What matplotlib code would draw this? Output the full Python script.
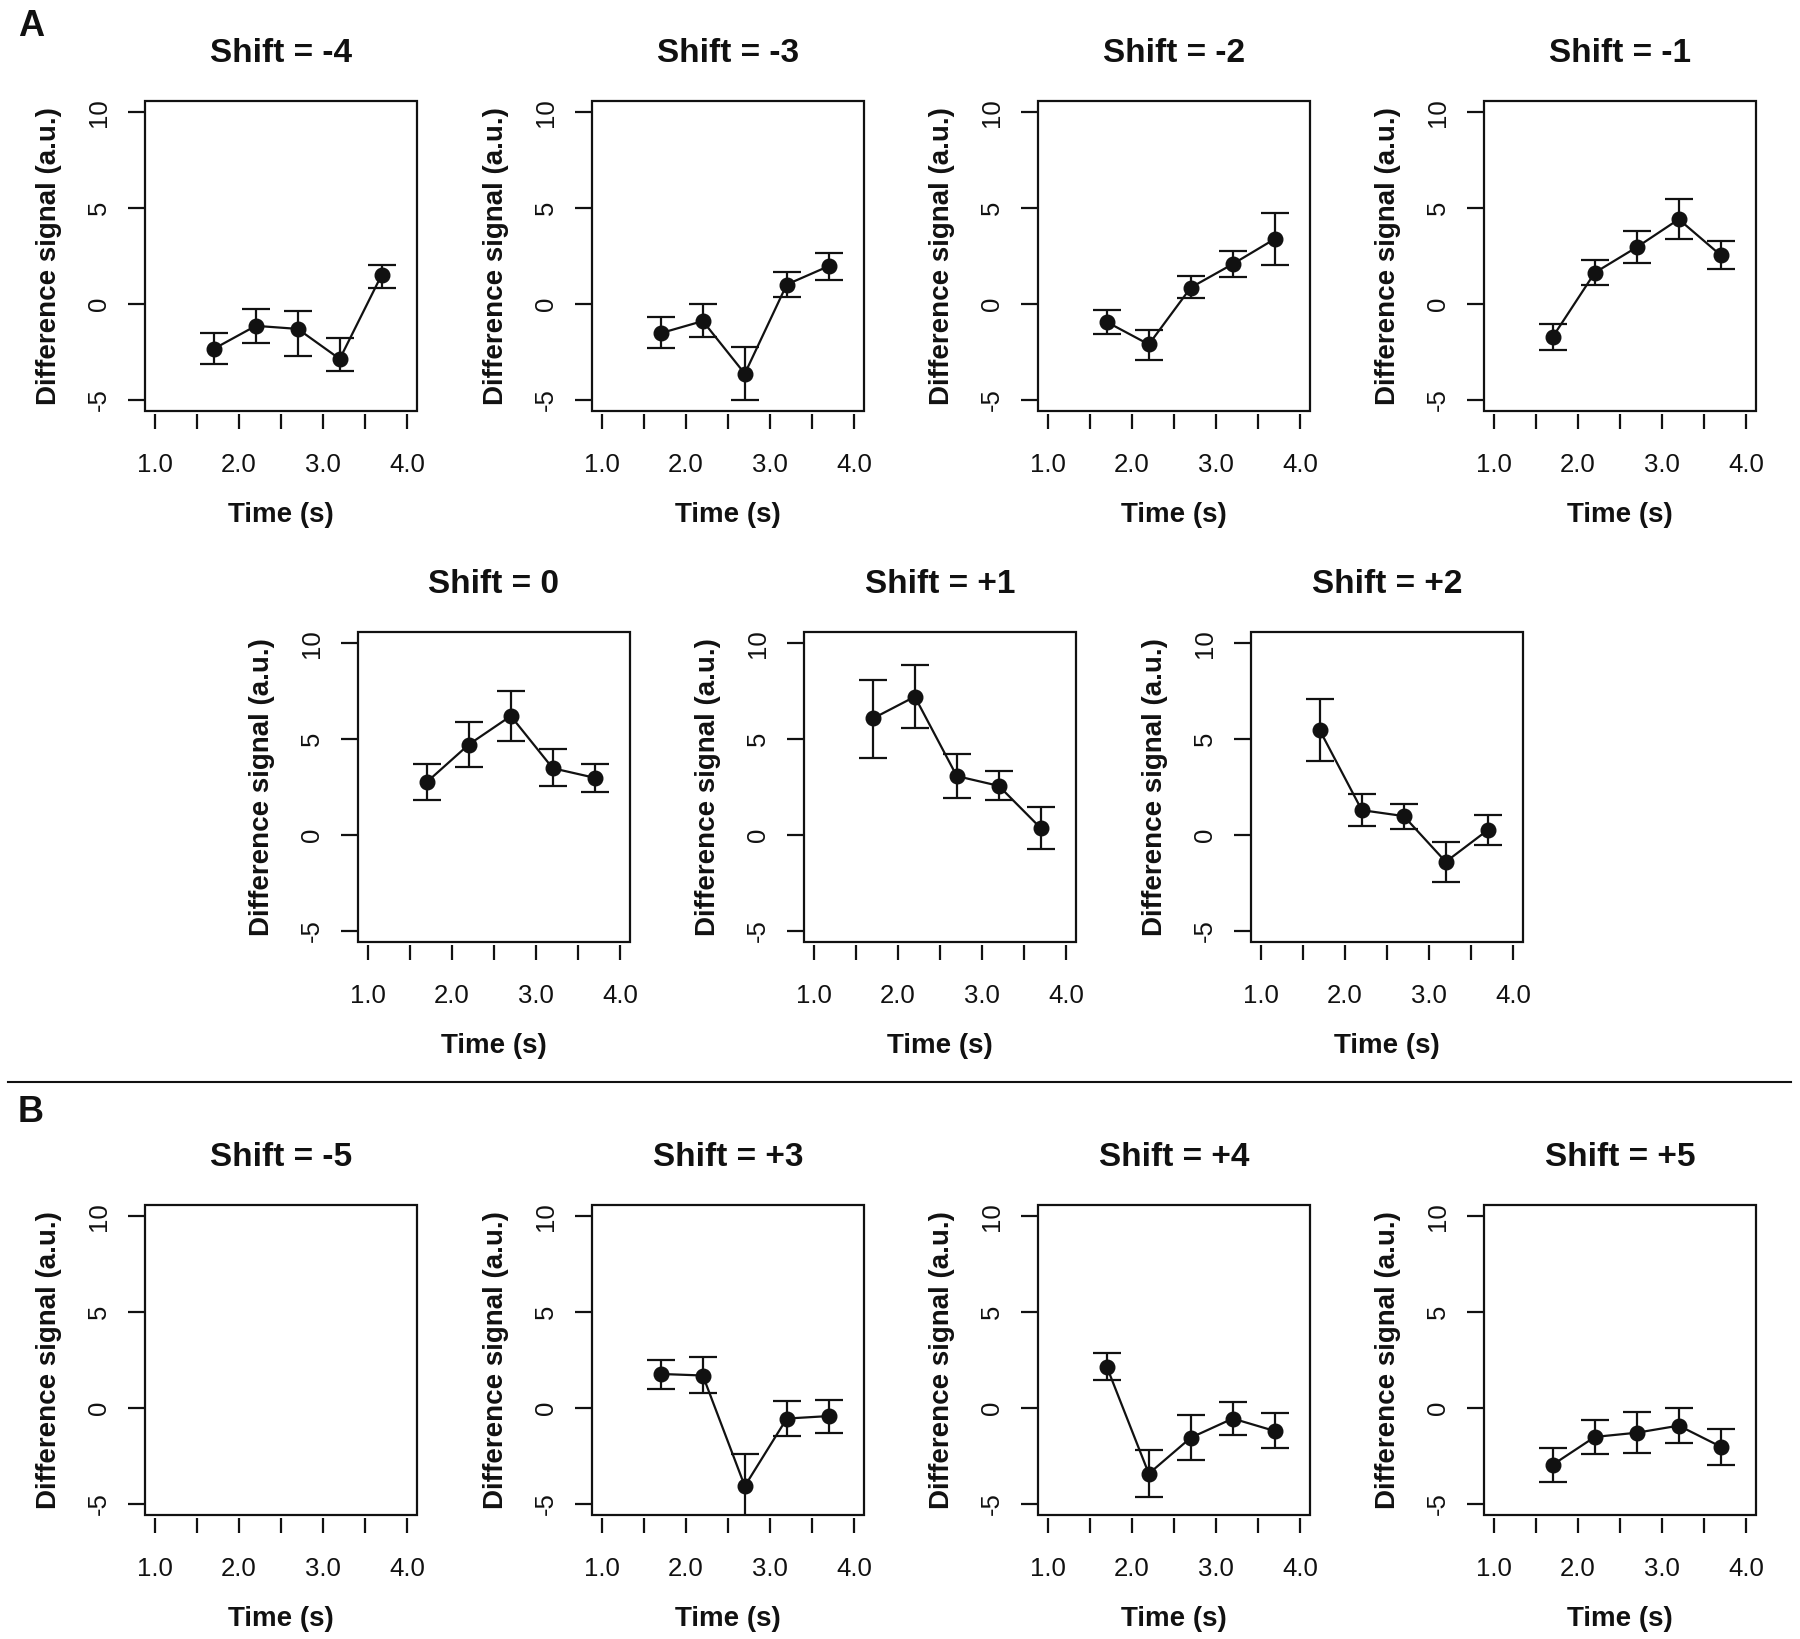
import matplotlib
matplotlib.use("Agg")
import matplotlib.pyplot as plt
from matplotlib.patches import Rectangle
from matplotlib.lines import Line2D

plt.rcParams['font.family'] = ['Liberation Sans', 'DejaVu Sans']

# time points (s)
time_s = [1.7, 2.2, 2.7, 3.2, 3.7]

# mean difference signal and error bar ends, one set per shift
sig_m4 = [-2.35, -1.15, -1.31, -2.88, 1.52]
lo_m4 = [-3.15, -2.03, -2.70, -3.51, 0.82]
hi_m4 = [-1.53, -0.28, -0.35, -1.81, 2.04]

sig_m3 = [-1.53, -0.90, -3.65, 1.01, 1.97]
lo_m3 = [-2.30, -1.72, -5.00, 0.38, 1.25]
hi_m3 = [-0.70, -0.03, -2.26, 1.66, 2.67]

sig_m2 = [-0.95, -2.12, 0.85, 2.08, 3.39]
lo_m2 = [-1.56, -2.93, 0.28, 1.39, 2.04]
hi_m2 = [-0.34, -1.35, 1.43, 2.78, 4.76]

sig_m1 = [-1.72, 1.63, 2.96, 4.42, 2.54]
lo_m1 = [-2.43, 1.00, 2.11, 3.39, 1.82]
hi_m1 = [-1.04, 2.29, 3.79, 5.46, 3.26]

sig_0 = [2.76, 4.72, 6.21, 3.48, 2.98]
lo_0 = [1.84, 3.53, 4.88, 2.53, 2.26]
hi_0 = [3.69, 5.90, 7.54, 4.47, 3.69]

sig_p1 = [6.08, 7.22, 3.07, 2.56, 0.35]
lo_p1 = [4.04, 5.56, 1.92, 1.83, -0.76]
hi_p1 = [8.11, 8.89, 4.25, 3.35, 1.47]

sig_p2 = [5.46, 1.29, 0.98, -1.41, 0.25]
lo_p2 = [3.84, 0.44, 0.32, -2.47, -0.53]
hi_p2 = [7.11, 2.13, 1.63, -0.36, 1.02]

# shift -5 has no data
sig_m5 = []
lo_m5 = []
hi_m5 = []

sig_p3 = [1.77, 1.69, -4.09, -0.56, -0.43]
lo_p3 = [0.97, 0.76, -5.80, -1.47, -1.30]
hi_p3 = [2.49, 2.66, -2.40, 0.35, 0.41]

sig_p4 = [2.14, -3.44, -1.56, -0.56, -1.21]
lo_p4 = [1.43, -4.65, -2.73, -1.43, -2.12]
hi_p4 = [2.84, -2.21, -0.35, 0.30, -0.28]

sig_p5 = [-2.97, -1.52, -1.30, -0.93, -2.03]
lo_p5 = [-3.85, -2.40, -2.36, -1.86, -2.97]
hi_p5 = [-2.08, -0.65, -0.24, 0.00, -1.10]

titles = ["Shift = -4", "Shift = -3", "Shift = -2", "Shift = -1",
          "Shift = 0", "Shift = +1", "Shift = +2",
          "Shift = -5", "Shift = +3", "Shift = +4", "Shift = +5"]
sigs = [sig_m4, sig_m3, sig_m2, sig_m1, sig_0, sig_p1, sig_p2,
        sig_m5, sig_p3, sig_p4, sig_p5]
los = [lo_m4, lo_m3, lo_m2, lo_m1, lo_0, lo_p1, lo_p2,
       lo_m5, lo_p3, lo_p4, lo_p5]
his = [hi_m4, hi_m3, hi_m2, hi_m1, hi_0, hi_p1, hi_p2,
       hi_m5, hi_p3, hi_p4, hi_p5]

x_ticks = [1.0, 1.5, 2.0, 2.5, 3.0, 3.5, 4.0]
x_ticklabels = ["1.0", "", "2.0", "", "3.0", "", "4.0"]
y_ticks = [-5, 0, 5, 10]

W, H = 1800, 1639
fig = plt.figure(figsize=(W / 100, H / 100), dpi=100)

# panel boxes in pixels: left, top, bottom
w_px = 272
boxes = []
for left in [145, 592, 1038, 1484]:
    boxes.append((left, 101, 411))
for left in [358, 804, 1251]:
    boxes.append((left, 632, 942))
for left in [145, 592, 1038, 1484]:
    boxes.append((left, 1205, 1515))

ink = '#111111'
for i in range(len(titles)):
    left, top, bottom = boxes[i]
    ax = fig.add_axes([left / W, 1 - bottom / H, w_px / W, (bottom - top) / H])
    if len(sigs[i]) > 0:
        yerr = [[s - l for s, l in zip(sigs[i], los[i])],
                [h - s for s, h in zip(sigs[i], his[i])]]
        ax.errorbar(time_s, sigs[i], yerr=yerr, fmt='o-', color=ink,
                    ms=10.5, lw=1.6, elinewidth=1.6, capsize=10, capthick=1.6)
    ax.set_xlim(0.88, 4.12)
    ax.set_ylim(-5.6, 10.6)
    ax.set_xticks(x_ticks)
    ax.set_xticklabels(x_ticklabels)
    ax.set_yticks(y_ticks)
    ax.set_yticklabels([str(v) for v in y_ticks])
    for sp in ax.spines.values():
        sp.set_visible(False)
    ax.spines['bottom'].set_position(('outward', 2))
    ax.add_patch(Rectangle((0, 0), 1, 1, transform=ax.transAxes, fill=False,
                           lw=1.6, edgecolor=ink, clip_on=False, zorder=5))
    ax.tick_params(axis='x', direction='out', length=11, width=1.6,
                   labelsize=18.5, pad=17, colors=ink)
    ax.tick_params(axis='y', direction='out', length=12, width=1.6,
                   labelsize=18.5, pad=12.5, colors=ink, labelrotation=90)
    for lab in ax.get_yticklabels():
        lab.set_va('center')
    ax.set_title(titles[i], fontsize=24, fontweight='bold', pad=28, color=ink)
    ax.set_xlabel("Time (s)", fontsize=20, fontweight='bold', labelpad=18, color=ink)
    ax.set_ylabel("Difference signal (a.u.)", fontsize=20, fontweight='bold',
                  labelpad=18, color=ink)

# section labels and separator
fig.text(18 / W, 1 - 36 / H, "A", fontsize=26, fontweight='bold', color=ink)
fig.text(18 / W, 1 - 1122 / H, "B", fontsize=26, fontweight='bold', color=ink)
fig.add_artist(Line2D([8 / W, 1791 / W], [1 - 1082 / H, 1 - 1082 / H],
                      transform=fig.transFigure, color=ink, lw=1.5))

fig.savefig("out.png", dpi=100)
